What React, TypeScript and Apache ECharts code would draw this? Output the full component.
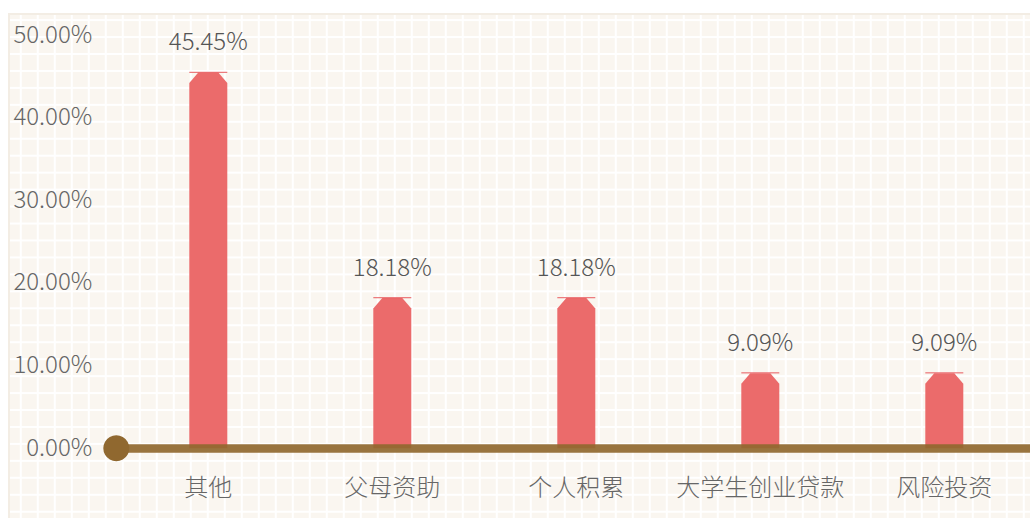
import React, { useEffect, useRef } from "react";
import * as echarts from "echarts";

const categories = ["其他", "父母资助", "个人积累", "大学生创业贷款", "风险投资"];
const values = [45.45, 18.18, 18.18, 9.09, 9.09];
const yTicks = { min: 0, max: 50, interval: 10 };

const FONT = "'Noto Sans CJK SC', 'Noto Sans', sans-serif";

export default function App() {
  const ref = useRef<HTMLDivElement>(null);
  useEffect(() => {
    if (!ref.current) return;
    const chart = echarts.init(ref.current, undefined, { renderer: "svg" });
    const data = values.map((v, i) => [i, v]);
    chart.setOption({
      animation: false,
      backgroundColor: "transparent",
      textStyle: { fontFamily: FONT, fontWeight: 300 },
      grid: {
        left: 108.3,
        top: 22,
        width: 920,
        height: 413.3,
        containLabel: false,
        outerBoundsMode: "none",
      },
      xAxis: {
        type: "category",
        data: categories,
        z: 10,
        axisLine: {
          show: true,
          symbol: ["circle", "none"],
          symbolSize: [26, 26],
          lineStyle: { color: "#90682f", width: 8.5, opacity: 0.92 },
        },
        axisTick: { show: false },
        axisLabel: {
          interval: 0,
          color: "#666",
          fontSize: 24,
          margin: 25,
          fontFamily: FONT,
          fontWeight: 300,
        },
        splitLine: { show: false },
      },
      yAxis: {
        type: "value",
        min: yTicks.min,
        max: yTicks.max,
        interval: yTicks.interval,
        axisLine: { show: false },
        axisTick: { show: false },
        splitLine: { show: false },
        axisLabel: {
          color: "#666",
          fontSize: 24,
          margin: 24,
          lineHeight: 6,
          verticalAlign: "bottom",
          fontFamily: FONT,
          fontWeight: 300,
          formatter: (v: number) => v.toFixed(2) + "%",
        },
      },
      series: [
        {
          type: "custom",
          z: 2,
          data,
          renderItem: (params: any, api: any) => {
            const idx = api.value(0);
            const val = api.value(1);
            const top = api.coord([idx, val]);
            const base = api.coord([idx, 0]);
            const w = 38;
            const c = 9;
            const vcut = 10.5;
            const x = top[0];
            const ty = top[1];
            const by = base[1];
            return {
              type: "group",
              children: [
                {
                  type: "polygon",
                  shape: {
                    points: [
                      [x - w / 2, by],
                      [x - w / 2, ty + vcut],
                      [x - w / 2 + c, ty],
                      [x + w / 2 - c, ty],
                      [x + w / 2, ty + vcut],
                      [x + w / 2, by],
                    ],
                  },
                  style: { fill: "#eb6b6b" },
                },
                {
                  type: "line",
                  shape: { x1: x - w / 2, y1: ty - 0.3, x2: x + w / 2, y2: ty - 0.3 },
                  style: { stroke: "#e85a5e", lineWidth: 1 },
                },
                {
                  type: "text",
                  style: {
                    text: val.toFixed(2) + "%",
                    x: x,
                    y: ty - 21,
                    align: "center",
                    verticalAlign: "bottom",
                    fill: "#555",
                    fontSize: 24,
                    fontFamily: FONT,
                    fontWeight: 300,
                  },
                },
              ],
            };
          },
        },
      ],
    });
    return () => chart.dispose();
  }, []);
  return (
    <div
      style={{
        position: "absolute",
        left: 8,
        top: 13,
        width: 1022,
        height: 505,
        overflow: "hidden",
        backgroundColor: "#faf6f0",
        backgroundImage:
          "linear-gradient(90deg, #ffffff 1.8px, transparent 1.8px), linear-gradient(180deg, #ffffff 1.8px, transparent 1.8px)",
        backgroundSize: "17px 16.96px, 17px 16.96px",
        backgroundPosition: "11.8px 0px, 0px 6.1px",
        boxShadow: "inset 2px 2px 0 #f3ede4",
      }}
    >
      <div ref={ref} style={{ width: 1040, height: 505 }} />
    </div>
  );
}
